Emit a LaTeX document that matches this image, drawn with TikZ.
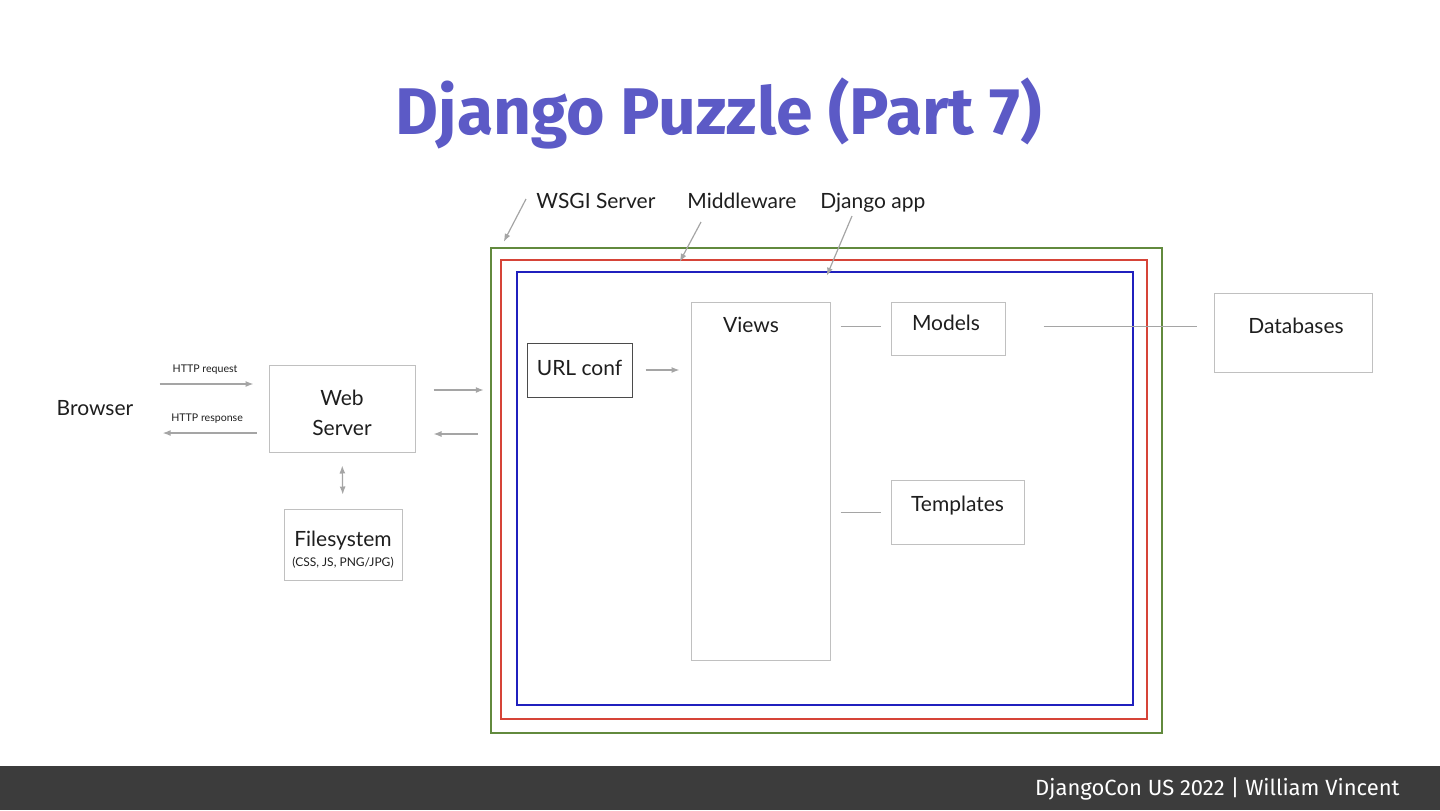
\documentclass[tikz,border=0pt]{standalone}
\usepackage{fontspec}
\setmainfont{Lato}
\newfontfamily\firafont{Fira Sans}
\usetikzlibrary{arrows.meta,positioning}
\definecolor{titleblue}{RGB}{92,90,198}
\definecolor{wsgigreen}{RGB}{98,138,62}
\definecolor{mwred}{RGB}{214,68,56}
\definecolor{appblue}{RGB}{32,32,190}
\definecolor{boxgray}{RGB}{192,192,192}
\definecolor{arrowgray}{RGB}{165,165,165}
\definecolor{inkgray}{RGB}{30,30,30}
\definecolor{footgray}{RGB}{60,60,60}
\tikzset{
  box/.style={draw=boxgray, line width=0.5pt, inner sep=0pt, text=inkgray, align=center,
    font=\fontsize{10.5}{15}\selectfont},
  onebox/.style={box, text height=7.5pt},
  arr/.style={draw=arrowgray, line width=0.6pt, -{Latex[length=4pt,width=3pt]}},
  link/.style={draw=arrowgray, line width=0.5pt},
  frame/.style={draw, line width=1.25pt, inner sep=0pt},
  lbl/.style={inner sep=0pt, anchor=base west, text=inkgray, font=\fontsize{10.5}{12}\selectfont},
  tiny/.style={text=inkgray, font=\fontsize{5.3}{6}\selectfont}
}
\begin{document}
\begin{tikzpicture}[x=0.5pt, y=-0.5pt]
	\useasboundingbox (0,0) rectangle (1440,810);
	% title and footer
	\node[text=titleblue, font=\firafont\bfseries\fontsize{33}{40}\selectfont] (title) at (719,113) {Django Puzzle (Part 7)};
	\fill[footgray] (0,766) rectangle (1440,810);
	\node[anchor=east, text=white, inner sep=0pt, font=\firafont\fontsize{11}{13}\selectfont] (footer) at (1400,789) {DjangoCon US 2022 | William Vincent};
	% frames
	\node[frame, draw=wsgigreen, minimum width=335.5pt, minimum height=242.5pt] (wsgi) at (826.5,490.5) {};
	\node[frame, draw=mwred, minimum width=323pt, minimum height=229.5pt] (mw) at (824,489.5) {};
	\node[frame, draw=appblue, minimum width=308pt, minimum height=216.5pt] (app) at (825,488.5) {};
	\node[lbl] (wsgilbl) at (536,208) {WSGI Server};
	\node[lbl] (mwlbl) at (687,208) {Middleware};
	\node[lbl] (applbl) at (820,208) {Django app};
	\draw[arr] ([shift={(-5pt,4.5pt)}]wsgilbl.base west) -- ([shift={(7pt,2.5pt)}]wsgi.north west);
	\draw[arr] ([shift={(7pt,-7pt)}]mwlbl.base west) -- ([shift={(90pt,-1.5pt)}]mw.north west);
	\draw[arr] ([shift={(16pt,-4pt)}]applbl.base west) -- ([shift={(155.5pt,-2.5pt)}]app.north west);
	% outside
	\node[inner sep=0pt, text=inkgray, font=\fontsize{10.5}{12}\selectfont] (browser) at (95,408.5) {Browser};
	\node[box, minimum width=73pt, minimum height=43.5pt, text height=26.6pt] (web) at (342,408.5) {Web\\Server};
	\node[box, minimum width=59pt, minimum height=35.5pt, text height=23pt] (files) at (343,544.5) {Filesystem\\[-5pt]{\fontsize{6}{7}\selectfont (CSS, JS, PNG/JPG)}};
	\node[onebox, minimum width=79pt, minimum height=39.5pt, text depth=6.8pt] (db) at (1293,332.5) {Databases\hspace{-3pt}};
	\draw[arr, shorten <=13pt, shorten >=7.5pt] ([yshift=12.25pt]browser.east) -- node[tiny, above=1pt, xshift=2pt] (req) {HTTP request} ([yshift=12.25pt]web.west);
	\draw[arr, shorten <=6pt, shorten >=14.5pt] ([yshift=-12.25pt]web.west) -- node[tiny, above=1pt, xshift=3pt] (resp) {HTTP response} ([yshift=-12.25pt]browser.east);
	\draw[arr] ([shift={(9pt,9.25pt)}]web.east) -- ([shift={(-3pt,50.25pt)}]wsgi.west);
	\draw[arr] ([shift={(-6pt,28.25pt)}]wsgi.west) -- ([shift={(9pt,-12.75pt)}]web.east);
	\draw[arr, {Latex[length=4pt,width=3pt]}-{Latex[length=4pt,width=3pt]}, shorten <=6.5pt, shorten >=7pt] (web.south) -- (files.north);
	% inside the app
	\node[onebox, draw=inkgray!80, minimum width=52.5pt, minimum height=27pt, text depth=1.8pt] (url) at (579.5,370) {URL conf};
	\node[onebox, minimum width=69.5pt, minimum height=179pt, text depth=156pt] (views) at (760.5,481) {Views\hspace{9.5pt}};
	\node[onebox, minimum width=57pt, minimum height=26.5pt, text depth=5.3pt] (models) at (948,328.5) {Models\hspace{2pt}};
	\node[onebox, minimum width=66.5pt, minimum height=32pt, text depth=7.8pt] (templates) at (957.5,512) {Templates};
	\draw[arr, shorten <=6.5pt, shorten >=5.5pt] (url.east) -- (url.east -| views.west);
	\draw[link, shorten <=5pt, shorten >=5pt] ([yshift=1.25pt]models.west -| views.east) -- ([yshift=1.25pt]models.west);
	\draw[link, shorten <=5pt, shorten >=5pt] (templates.west -| views.east) -- (templates.west);
	\draw[link, shorten <=19pt, shorten >=8.5pt] ([yshift=1.25pt]models.east) -- ([yshift=1.25pt]models.east -| db.west);
\end{tikzpicture}
\end{document}
